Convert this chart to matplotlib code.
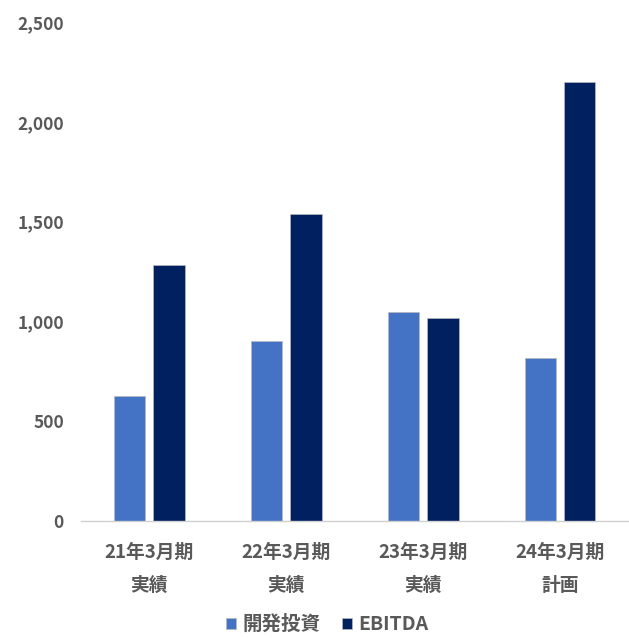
import numpy as np
import matplotlib
matplotlib.use("Agg")
import matplotlib.pyplot as plt

plt.rcParams['font.family'] = ['Noto Sans CJK JP', 'DejaVu Sans']

# 期別の開発投資とEBITDA（百万円）
periods = ["21年3月期\n実績", "22年3月期\n実績", "23年3月期\n実績", "24年3月期\n計画"]
dev_invest = [626, 902, 1047, 817]
ebitda = [1282, 1538, 1017, 2200]
yticks = [0, 500, 1000, 1500, 2000, 2500]

C_DEV = "#4472C4"
C_EBITDA = "#002060"
TXT = "#595959"

fig = plt.figure(figsize=(6.29, 6.39), dpi=100)
ax = fig.add_axes([0.128, 0.1847, 0.871, 0.781])

x = np.arange(len(periods))
w = 0.23
ax.bar(x - 0.142, dev_invest, w, color=C_DEV, edgecolor="#b8b8b8", linewidth=0.5, label="開発投資")
ax.bar(x + 0.145, ebitda, w, color=C_EBITDA, edgecolor="#b8b8b8", linewidth=0.5, label="EBITDA")

ax.set_xlim(-0.5, len(periods) - 0.5)
ax.set_ylim(0, 2500)
ax.set_yticks(yticks)
ax.set_yticklabels([f"{v:,}" for v in yticks], fontsize=12.5, fontweight="bold", color=TXT)
ax.set_xticks(x)
ax.set_xticklabels(periods, fontsize=13.5, fontweight="bold", color=TXT, linespacing=1.9)
ax.tick_params(axis="both", length=0)
ax.tick_params(axis="x", pad=16)
ax.tick_params(axis="y", pad=12)

for s in ["top", "right", "left"]:
    ax.spines[s].set_visible(False)
ax.spines["bottom"].set_color("#d0d0d0")
ax.spines["bottom"].set_linewidth(1.0)

fig.legend(loc="lower center", bbox_to_anchor=(0.52, -0.02), ncol=2, frameon=False,
           prop={"size": 14, "weight": "bold"}, labelcolor=TXT,
           handlelength=0.55, handleheight=0.55, handletextpad=0.3, columnspacing=1.1)

fig.savefig("out.png", dpi=100)
